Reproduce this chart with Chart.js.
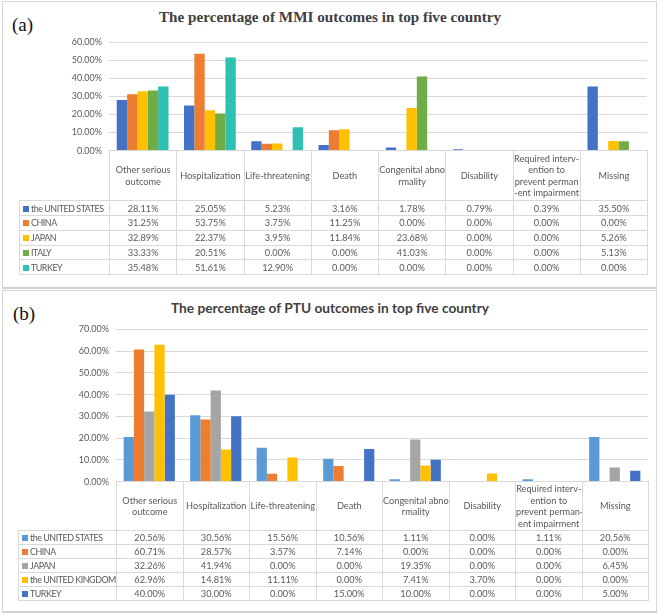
<!DOCTYPE html>
<html>
<head>
<meta charset="utf-8">
<script src="https://cdn.jsdelivr.net/npm/chart.js@4.4.1/dist/chart.umd.min.js"></script>
<style>
  body { margin: 0; background: #fff; width: 660px; height: 614px; position: relative; overflow: hidden; }
  .panel { position: absolute; left: 2px; width: 655px; box-sizing: border-box; border: 1px solid #d6d6d6; border-bottom: 2px solid #d0d0d0; }
  .tag { position: absolute; font-family: "Liberation Serif", serif; font-size: 19px; color: #111; }
  .title { position: absolute; left: 0; width: 660px; text-align: center; color: #404040; font-weight: bold; white-space: nowrap; }
  canvas { position: absolute; left: 0; }
  table { position: absolute; border-collapse: collapse; table-layout: fixed; font-family: Lato, sans-serif; font-size: 9.2px; color: #595959; }
  td { border: 1px solid #d9d9d9; padding: 0; text-align: center; white-space: nowrap; overflow: hidden; }
  td.corner { border-top: hidden; border-left: hidden; }
  td.name { text-align: left; padding-left: 3px; letter-spacing: -0.45px; font-size: 8.9px; }
  .sw { display: inline-block; width: 6px; height: 6px; margin-right: 2px; vertical-align: 0px; }
  td.head { line-height: 1.25; }
</style>
</head>
<body>
<div class="panel" style="top:1px;height:288px"></div>
<div class="panel" style="top:290px;height:323px"></div>
<div class="tag" style="left:12px;top:14px">(a)</div>
<div class="tag" style="left:13px;top:303px">(b)</div>
<div class="title" style="top:8px;font-family:'Liberation Serif',serif;font-size:15.2px">The percentage of MMI outcomes in top five country</div>
<div class="title" style="top:299px;font-family:Lato,sans-serif;font-size:13.7px">The percentage of PTU outcomes in top five country</div>
<canvas id="chartA" width="660" height="200"></canvas>
<canvas id="chartB" width="660" height="200"></canvas>
<table id="tableA"></table>
<table id="tableB"></table>
<script>
// (a) MMI outcomes
const categoriesA = [['Other serious', 'outcome'], ['Hospitalization'], ['Life-threatening'], ['Death'],
  ['Congenital abno', 'rmality'], ['Disability'],
  ['Required interv-', 'ention to', 'prevent perman', '-ent impairment'], ['Missing']];
const countriesA = ['the UNITED STATES', 'CHINA', 'JAPAN', 'ITALY', 'TURKEY'];
const usA     = [28.11, 25.05, 5.23, 3.16, 1.78, 0.79, 0.39, 35.50];
const chinaA  = [31.25, 53.75, 3.75, 11.25, 0.00, 0.00, 0.00, 0.00];
const japanA  = [32.89, 22.37, 3.95, 11.84, 23.68, 0.00, 0.00, 5.26];
const italyA  = [33.33, 20.51, 0.00, 0.00, 41.03, 0.00, 0.00, 5.13];
const turkeyA = [35.48, 51.61, 12.90, 0.00, 0.00, 0.00, 0.00, 0.00];
const colorsA = ['#4472C4', '#ED7D31', '#FFC000', '#70AD47', '#2EC0B0'];
const yMaxA = 60;

// (b) PTU outcomes
const categoriesB = [['Other serious', 'outcome'], ['Hospitalization'], ['Life-threatening'], ['Death'],
  ['Congenital abno', 'rmality'], ['Disability'],
  ['Required interv-', 'ention to', 'prevent perman-', 'ent impairment'], ['Missing']];
const countriesB = ['the UNITED STATES', 'CHINA', 'JAPAN', 'the UNITED KINGDOM', 'TURKEY'];
const usB     = [20.56, 30.56, 15.56, 10.56, 1.11, 0.00, 1.11, 20.56];
const chinaB  = [60.71, 28.57, 3.57, 7.14, 0.00, 0.00, 0.00, 0.00];
const japanB  = [32.26, 41.94, 0.00, 0.00, 19.35, 0.00, 0.00, 6.45];
const ukB     = [62.96, 14.81, 11.11, 0.00, 7.41, 3.70, 0.00, 0.00];
const turkeyB = [40.00, 30.00, 0.00, 15.00, 10.00, 0.00, 0.00, 5.00];
const colorsB = ['#5B9BD5', '#ED7D31', '#A5A5A5', '#FFC000', '#4472C4'];
const yMaxB = 70;

function buildChart(el, cfg, h) {
  el.width = 660;
  el.height = h;
  return new Chart(el, {
    type: 'bar',
    data: {
      labels: cfg.categories.map(c => c.join(' ')),
      datasets: cfg.series.map((s, i) => ({
        label: cfg.countries[i],
        data: s,
        backgroundColor: cfg.colors[i],
        barPercentage: 1,
        categoryPercentage: 0.77
      }))
    },
    options: {
      responsive: false,
      maintainAspectRatio: false,
      animation: false,
      layout: { padding: { top: 0, right: cfg.padRight, left: 0, bottom: 0 } },
      plugins: { legend: { display: false }, tooltip: { enabled: false } },
      scales: {
        x: { display: false },
        y: {
          min: 0, max: cfg.yMax,
          border: { display: false },
          grid: { color: '#d9d9d9', drawTicks: false },
          ticks: {
            stepSize: 10, padding: 7, color: '#595959',
            font: { family: 'Lato', size: 9 },
            callback: v => v.toFixed(2) + '%'
          },
          afterFit: s => { s.width = cfg.axisWidth; }
        }
      }
    }
  });
}

function makePanel(cfg) {
  const el = document.getElementById(cfg.canvas);
  // first pass to learn how much room the axis labels take, then size the canvas
  let chart = buildChart(el, cfg, 200);
  const extra = 200 - (chart.chartArea.bottom - chart.chartArea.top);
  chart.destroy();
  chart = buildChart(el, cfg, cfg.plotBottom - cfg.plotTop + extra);
  const area = chart.chartArea;
  const canvasTop = cfg.plotTop - area.top;
  el.style.top = canvasTop + 'px';

  // data table under the plot, columns follow the category bands
  const colW = (area.right - area.left) / cfg.categories.length;
  const nameW = area.left - cfg.tableLeft;
  const tbl = document.getElementById(cfg.table);
  tbl.style.left = cfg.tableLeft + 'px';
  tbl.style.top = (canvasTop + area.bottom) + 'px';
  tbl.style.width = (nameW + colW * cfg.categories.length) + 'px';
  let html = '<colgroup><col style="width:' + nameW + 'px">';
  cfg.categories.forEach(() => { html += '<col style="width:' + colW + 'px">'; });
  html += '</colgroup><tr style="height:' + cfg.headH + 'px"><td class="corner"></td>';
  cfg.categories.forEach(c => { html += '<td class="head">' + c.join('<br>') + '</td>'; });
  html += '</tr>';
  cfg.series.forEach((s, i) => {
    html += '<tr style="height:' + cfg.rowH + 'px"><td class="name"><span class="sw" style="background:' +
      cfg.colors[i] + '"></span>' + cfg.countries[i] + '</td>';
    s.forEach(v => { html += '<td>' + v.toFixed(2) + '%</td>'; });
    html += '</tr>';
  });
  tbl.innerHTML = html;
}

makePanel({
  canvas: 'chartA', table: 'tableA',
  categories: categoriesA, countries: countriesA,
  series: [usA, chinaA, japanA, italyA, turkeyA], colors: colorsA, yMax: yMaxA,
  plotTop: 42, plotBottom: 151, padRight: 13, axisWidth: 109,
  tableLeft: 19, headH: 50, rowH: 14.8
});
makePanel({
  canvas: 'chartB', table: 'tableB',
  categories: categoriesB, countries: countriesB,
  series: [usB, chinaB, japanB, ukB, turkeyB], colors: colorsB, yMax: yMaxB,
  plotTop: 329, plotBottom: 482, padRight: 12, axisWidth: 116,
  tableLeft: 18, headH: 49, rowH: 14
});
</script>
</body>
</html>
